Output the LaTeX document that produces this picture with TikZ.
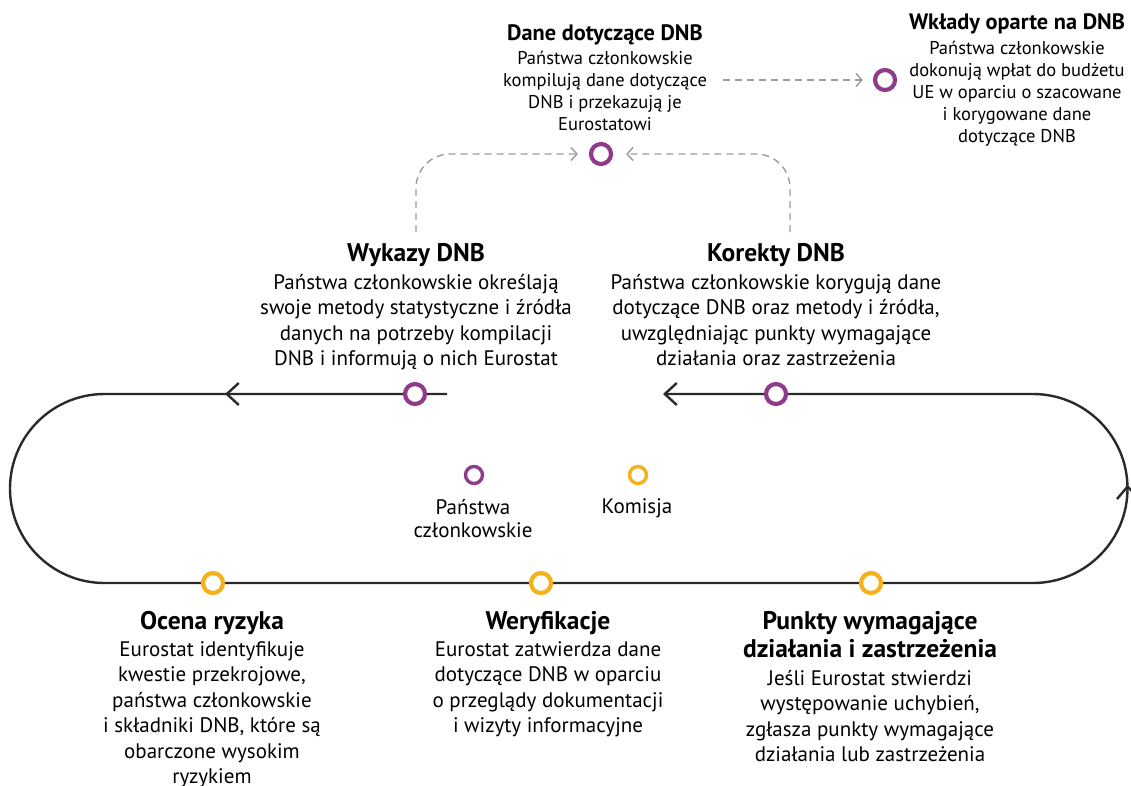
\documentclass[tikz,border=0pt]{standalone}
\usepackage{fontspec}
\setmainfont{PT Sans}
\usetikzlibrary{arrows.meta,decorations.markings}

\definecolor{msPurple}{HTML}{8E3B8B}
\definecolor{ecYellow}{HTML}{F6B11A}
\definecolor{trackCol}{HTML}{2B2A29}
\definecolor{dashGray}{HTML}{9B9B9B}

% headings of the stage descriptions
\newcommand\stagetitle[1]{{\fontsize{25.5}{25.5}\selectfont\bfseries #1}}
\newcommand\flowtitle[1]{{\fontsize{22.3}{22}\selectfont\bfseries #1}}

\tikzset{
  ring/.style={circle, draw=#1, line width=4.2pt, minimum size=20pt, inner sep=0pt},
  keyring/.style={circle, draw=#1, line width=3.4pt, minimum size=17pt, inner sep=0pt},
  bigtxt/.style={align=center, inner sep=0pt, anchor=north, text=black,
    font=\fontsize{21}{25.5}\selectfont},
  smalltxt/.style={align=center, inner sep=0pt, anchor=north, text=black,
    font=\fontsize{18.5}{22}\selectfont},
  barb/.tip={Straight Barb[length=12pt,width=22pt]},
  track/.style={draw=trackCol, line width=2.4pt},
  dasharrow/.style={draw=dashGray, line width=1.4pt, dash pattern=on 7pt off 5pt,
    -{Straight Barb[length=6pt,width=13pt]}, rounded corners=34pt},
}

\begin{document}
\begin{tikzpicture}[x=1pt,y=-1pt]
\useasboundingbox (0,0) rectangle (1131,785);

% circular process track
\draw[track, -barb,
  postaction={decorate},
  decoration={markings,
    mark=at position 222pt with {\arrow[trackCol, line width=2.4pt]{barb}},
    mark=at position 1720pt with {\arrow[trackCol, line width=2.4pt]{barb}}}]
  (447,394) -- (104.5,394)
  arc[start angle=-90, end angle=-270, radius=94.5]
  -- (1033,583)
  arc[start angle=90, end angle=-90, radius=94.5]
  -- (663,394);

% stage markers on the track
\node[ring=msPurple, fill=white] (cWyk) at (415,394) {};
\node[ring=msPurple, fill=white] (cKor) at (776,394) {};
\node[ring=ecYellow, fill=white] (cOce) at (213,583) {};
\node[ring=ecYellow, fill=white] (cWer) at (541,583) {};
\node[ring=ecYellow, fill=white] (cPun) at (871,583) {};

% markers above the track
\node[ring=msPurple] (cDane) at (601,154) {};
\node[ring=msPurple] (cWkl) at (885,80) {};

% legend
\node[keyring=msPurple] (kMS) at (474,475) {};
\node[keyring=ecYellow] (kEC) at (638,475) {};
\node[bigtxt, font=\fontsize{21}{23}\selectfont] (kMSt) at (473,499) {Państwa\\członkowskie};
\node[bigtxt, font=\fontsize{21}{23}\selectfont] (kECt) at (637,498) {Komisja};

% stage descriptions
\node[smalltxt] (tDane) at (605,24) {\flowtitle{Dane dotyczące DNB}\\[2pt]
  Państwa członkowskie\\kompilują dane dotyczące\\DNB i przekazują je\\Eurostatowi};
\node[smalltxt] (tWkl) at (1017,13) {\flowtitle{Wkłady oparte na DNB}\\[3pt]
  Państwa członkowskie\\dokonują wpłat do budżetu\\UE w oparciu o szacowane\\i korygowane dane\\dotyczące DNB};
\node[bigtxt] (tWyk) at (416,243) {\stagetitle{Wykazy DNB}\\[2.5pt]
  Państwa członkowskie określają\\swoje metody statystyczne i źródła\\danych na potrzeby kompilacji\\DNB i informują o nich Eurostat};
\node[bigtxt] (tKor) at (776,243) {\stagetitle{Korekty DNB}\\[2.5pt]
  Państwa członkowskie korygują dane\\dotyczące DNB oraz metody i źródła,\\uwzględniając punkty wymagające\\działania oraz zastrzeżenia};
\node[bigtxt] (tOce) at (212,611) {\stagetitle{Ocena ryzyka}\\[1.5pt]
  Eurostat identyfikuje\\kwestie przekrojowe,\\państwa członkowskie\\i składniki DNB, które są\\obarczone wysokim\\ryzykiem};
\node[bigtxt] (tWer) at (548,611) {\stagetitle{Weryfikacje}\\[1.5pt]
  Eurostat zatwierdza dane\\dotyczące DNB w oparciu\\o przeglądy dokumentacji\\i wizyty informacyjne};
\node[bigtxt] (tPun) at (870,611) {\stagetitle{Punkty wymagające}\\[2.5pt]\stagetitle{działania i zastrzeżenia}\\[2.5pt]
  Jeśli Eurostat stwierdzi\\występowanie uchybień,\\zgłasza punkty wymagające\\działania lub zastrzeżenia};

% data flows towards the compiled GNI data and the contributions
\coordinate (wykOut) at (416,232);
\coordinate (korOut) at (790,232);
\coordinate (daneOut) at (723,80);
\draw[dasharrow, shorten >=11pt] (wykOut) |- (cDane);
\draw[dasharrow, shorten >=13pt] (korOut) |- (cDane);
\draw[dasharrow, shorten >=10pt] (daneOut) -- (cWkl);
\end{tikzpicture}
\end{document}
